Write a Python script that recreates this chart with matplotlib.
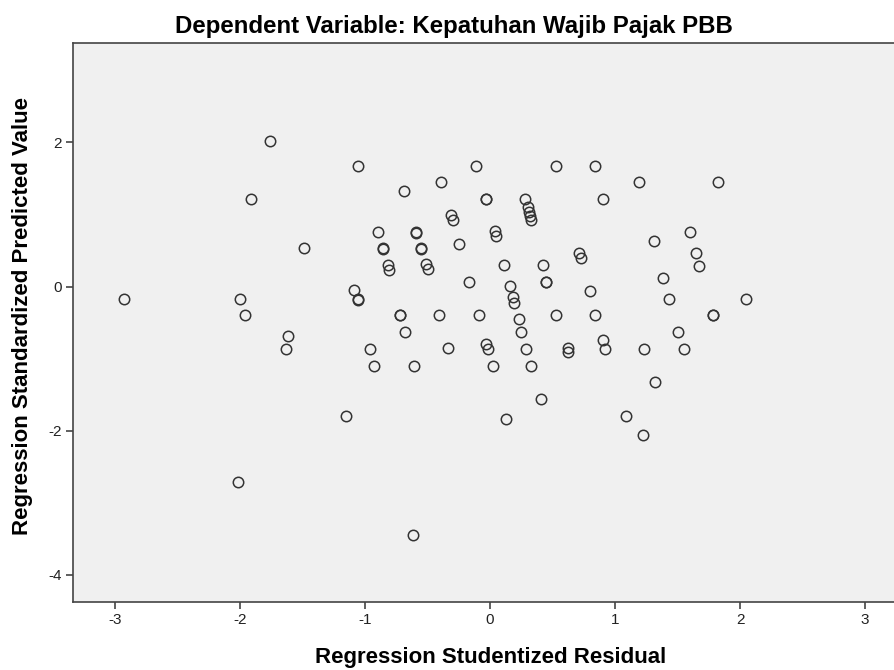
import numpy as np
import matplotlib.pyplot as plt

plt.rcParams['font.family'] = ['Liberation Sans', 'DejaVu Sans']
plt.rcParams['axes.unicode_minus'] = False

# studentized residual (x) vs standardized predicted value (y)
resid = [-1.76, -1.06, -1.91, -1.49, -2.93, -2.00, -1.96, -1.62, -1.63, -2.02,
         -1.15, -0.62, -0.90, -0.86, -0.86, -0.82, -0.81, -1.09, -1.06, -1.06,
         -0.72, -0.72, -0.96, -0.93, -0.11, 0.53, -0.39, -0.69, -0.03, -0.03,
         0.28, 0.30, 0.31, 0.32, 0.33, -0.31, -0.30, -0.59, -0.59, 0.04,
         0.05, -0.25, -0.55, -0.55, -0.51, -0.50, 0.11, 0.42, -0.17, 0.45,
         0.45, 0.71, 0.73, 0.16, 0.18, 0.19, 0.80, -0.41, -0.09, 0.23,
         0.53, -0.68, 0.25, -0.34, -0.03, -0.02, 0.29, 0.62, 0.62, -0.61,
         0.02, 0.33, 0.41, 0.13, 0.90, 0.92, 1.23, 1.55, 1.50, 1.32,
         1.09, 1.22, 1.31, 1.60, 1.65, 1.67, 1.38, 1.43, 2.05, 1.78,
         1.78, 0.84, 0.84, 1.19, 1.82, 0.90]
pred = [2.02, 1.68, 1.22, 0.53, -0.17, -0.17, -0.40, -0.69, -0.86, -2.71,
        -1.79, -3.44, 0.76, 0.52, 0.53, 0.30, 0.23, -0.05, -0.17, -0.18,
        -0.40, -0.40, -0.87, -1.10, 1.68, 1.68, 1.45, 1.33, 1.22, 1.22,
        1.22, 1.10, 1.04, 0.98, 0.93, 1.00, 0.93, 0.76, 0.75, 0.77,
        0.70, 0.59, 0.52, 0.53, 0.31, 0.24, 0.30, 0.30, 0.07, 0.07,
        0.07, 0.46, 0.40, 0.01, -0.15, -0.22, -0.06, -0.40, -0.40, -0.45,
        -0.40, -0.63, -0.63, -0.85, -0.79, -0.87, -0.87, -0.85, -0.91, -1.10,
        -1.10, -1.10, -1.56, -1.84, -0.74, -0.86, -0.86, -0.86, -0.63, -1.32,
        -1.79, -2.06, 0.63, 0.76, 0.46, 0.29, 0.12, -0.17, -0.17, -0.40,
        -0.40, -0.40, 1.68, 1.45, 1.45, 1.22]

xticks = [-3, -2, -1, 0, 1, 2, 3]
yticks = [-4, -2, 0, 2]

fig = plt.figure(figsize=(8.95, 6.7), dpi=100)
ax = fig.add_axes([0.0816, 0.1015, 0.9184, 0.8343])
ax.set_facecolor('#f0f0f0')

ax.plot(resid, pred, linestyle='none', marker='o', markersize=7.5,
        markerfacecolor='none', markeredgecolor='#333333', markeredgewidth=1.1)

ax.set_xlim(-3.336, 3.24)
ax.set_ylim(-4.375, 3.38)
ax.set_xticks(xticks)
ax.set_yticks(yticks)
ax.tick_params(direction='out', length=5, width=1.2, color='#444444',
               labelsize=11, labelcolor='#222222', pad=3)
for s in ['left', 'bottom', 'top']:
    ax.spines[s].set_color('#444444')
    ax.spines[s].set_linewidth(1.2)
ax.spines['right'].set_visible(False)

fig.text(0.548, 0.018, 'Regression Studentized Residual',
         ha='center', va='center', fontsize=16, fontweight='bold')
fig.text(0.025, 0.528, 'Regression Standardized Predicted Value',
         ha='center', va='center', rotation=90, fontsize=16, fontweight='bold')
fig.text(0.507, 0.961, 'Dependent Variable: Kepatuhan Wajib Pajak PBB',
         ha='center', va='center', fontsize=17.3, fontweight='bold')

fig.savefig('out.png', dpi=100)
